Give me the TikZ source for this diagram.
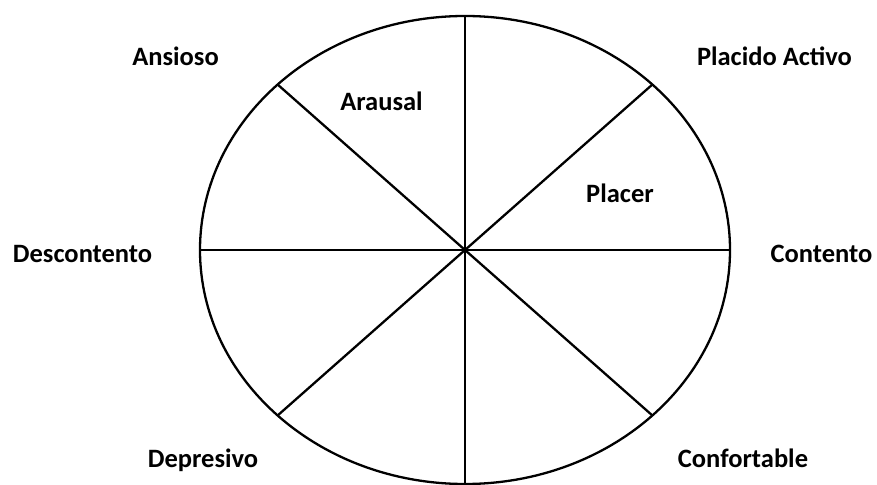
\documentclass[tikz,border=0pt]{standalone}
\usepackage{fontspec}
\setmainfont{Carlito}
\begin{document}
\begin{tikzpicture}[x=1bp,y=-1bp,
  rim/.style={line width=2.3bp,black},
  spoke/.style={line width=2.3bp,black},
  lbl/.style={font=\fontsize{26.5bp}{30bp}\selectfont\bfseries,anchor=base,inner sep=0pt}]
\useasboundingbox (0,0) rectangle (877,485);
\coordinate (c) at (465,250);
\coordinate (n) at (465,16);
\coordinate (s) at (465,484);
\coordinate (w) at (200,250);
\coordinate (e) at (730,250);
\coordinate (ne) at (652.4,84.5);
\coordinate (nw) at (277.6,84.5);
\coordinate (se) at (652.4,415.5);
\coordinate (sw) at (277.6,415.5);
\draw[rim] (c) ellipse [x radius=265, y radius=234];
\draw[spoke] (n) -- (s);
\draw[spoke] (w) -- (e);
\draw[spoke] (nw) -- (se);
\draw[spoke] (ne) -- (sw);
\node[lbl] (ansioso) at (175.5,66) {Ansioso};
\node[lbl] (placido) at (774.5,66) {Placido Activo};
\node[lbl] (arausal) at (381.5,111) {Arausal};
\node[lbl] (placer) at (620,203) {Placer};
\node[lbl] (descontento) at (82.5,263) {Descontento};
\node[lbl] (contento) at (821.5,263) {Contento};
\node[lbl] (depresivo) at (203,467) {Depresivo};
\node[lbl] (confortable) at (743,467) {Confortable};
\end{tikzpicture}
\end{document}
